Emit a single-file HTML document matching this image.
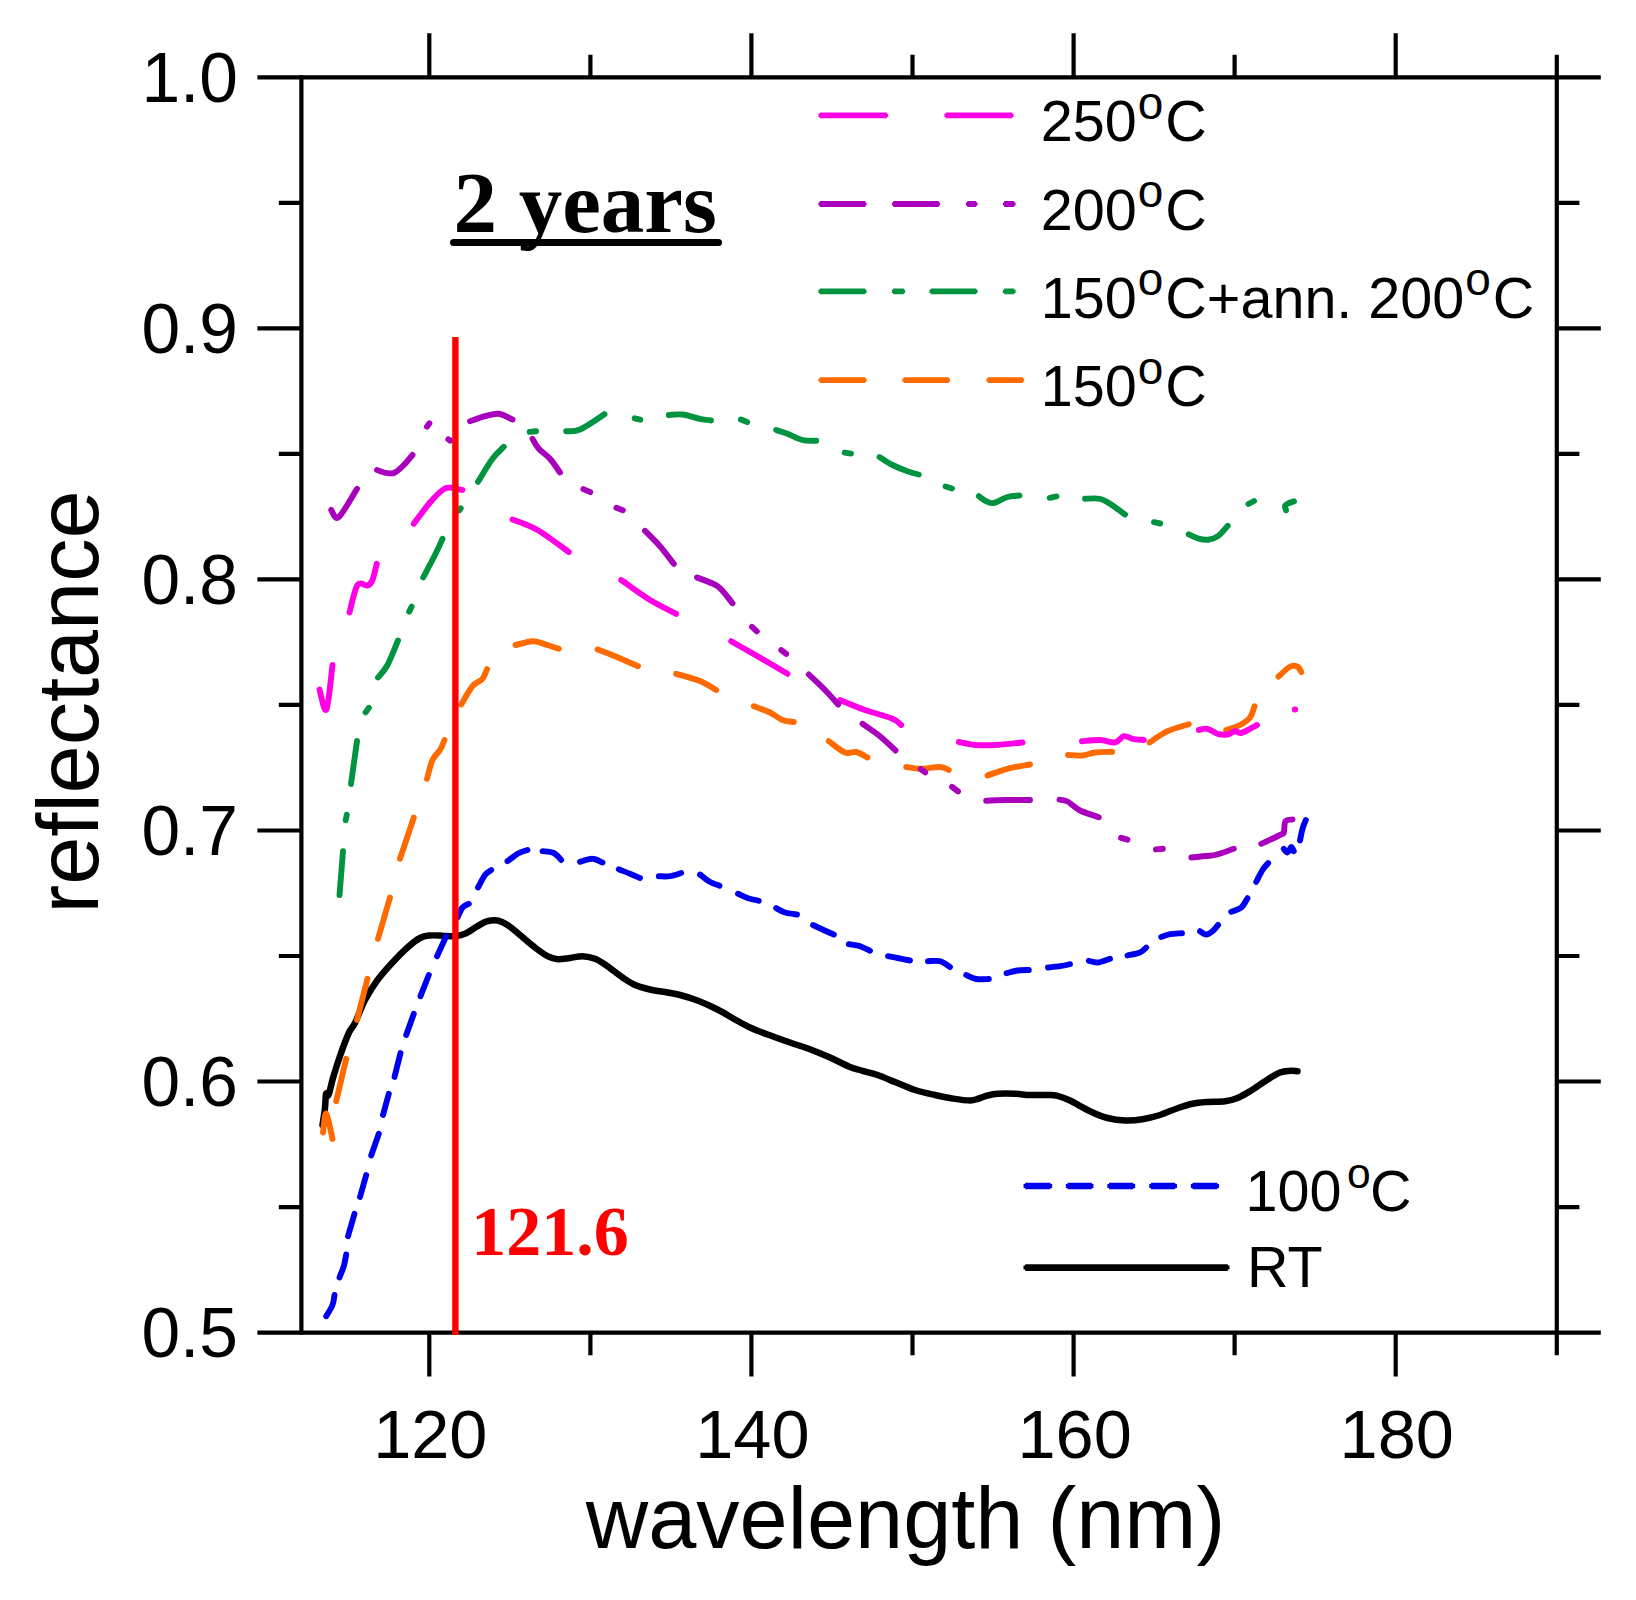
<!DOCTYPE html>
<html lang="en"><head><meta charset="utf-8"><title>reflectance vs wavelength</title>
<style>
html,body{margin:0;padding:0;background:#fff;}
body{width:1636px;height:1600px;overflow:hidden;}
svg{display:block;}
text{font-family:"Liberation Sans",Arial,sans-serif;fill:#000;}
.tk{font-size:69.5px;}
.tkx{font-size:68.5px;}
.lg{font-size:57.5px;}
.sup{font-size:46px;}
.ax{font-size:86.5px;}
.ser{font-family:"Liberation Serif","Times New Roman",serif;font-weight:bold;}
.c{fill:none;stroke-width:5.9;stroke-linecap:round;stroke-linejoin:round;}
.a{fill:none;stroke:#000;stroke-width:4.2;stroke-linecap:butt;}
</style></head><body>
<svg width="1636" height="1600" viewBox="0 0 1636 1600">
<rect width="1636" height="1600" fill="#fff"/>

<g class="a">
<path d="M301.4,75.2 V1334.6999999999998 M1556.8,75.2 V1334.6999999999998"/>
<path d="M257.4,77.3 H1600.8 M257.4,1332.6 H1600.8"/>
<path d="M278.79999999999995,1207.1 H301.4 M1556.8,1207.1 H1579.3999999999999 M257.4,1081.5 H301.4 M1556.8,1081.5 H1600.8 M278.79999999999995,956.0 H301.4 M1556.8,956.0 H1579.3999999999999 M257.4,830.5 H301.4 M1556.8,830.5 H1600.8 M278.79999999999995,704.9 H301.4 M1556.8,704.9 H1579.3999999999999 M257.4,579.4 H301.4 M1556.8,579.4 H1600.8 M278.79999999999995,453.9 H301.4 M1556.8,453.9 H1579.3999999999999 M257.4,328.4 H301.4 M1556.8,328.4 H1600.8 M278.79999999999995,202.8 H301.4 M1556.8,202.8 H1579.3999999999999 "/>
<path d="M429.3,33.3 V77.3 M429.3,1332.6 V1376.6 M590.4,54.699999999999996 V77.3 M590.4,1332.6 V1355.1999999999998 M751.4,33.3 V77.3 M751.4,1332.6 V1376.6 M912.5,54.699999999999996 V77.3 M912.5,1332.6 V1355.1999999999998 M1073.6,33.3 V77.3 M1073.6,1332.6 V1376.6 M1234.6,54.699999999999996 V77.3 M1234.6,1332.6 V1355.1999999999998 M1395.7,33.3 V77.3 M1395.7,1332.6 V1376.6 M1556.8,54.699999999999996 V77.3 M1556.8,1332.6 V1355.1999999999998 "/>
</g>
<text class="tk" x="238" y="1356.8" text-anchor="end">0.5</text>
<text class="tk" x="238" y="1105.7" text-anchor="end">0.6</text>
<text class="tk" x="238" y="854.7" text-anchor="end">0.7</text>
<text class="tk" x="238" y="603.6" text-anchor="end">0.8</text>
<text class="tk" x="238" y="352.6" text-anchor="end">0.9</text>
<text class="tk" x="238" y="101.5" text-anchor="end">1.0</text>
<text class="tkx" x="430.3" y="1458" text-anchor="middle">120</text>
<text class="tkx" x="752.4" y="1458" text-anchor="middle">140</text>
<text class="tkx" x="1074.6" y="1458" text-anchor="middle">160</text>
<text class="tkx" x="1396.7" y="1458" text-anchor="middle">180</text>
<text class="ax" x="905.5" y="1548" text-anchor="middle">wavelength (nm)</text>
<text class="ax" transform="translate(98,702) rotate(-90)" text-anchor="middle">reflectance</text>
<path class="c" stroke="#000" style="stroke-width:6.5" d="M322.5,1125.0 C322.9,1122.2 324.4,1113.2 325.0,1108.0 C325.6,1102.8 325.4,1096.2 326.0,1094.0 C326.6,1091.8 327.3,1097.7 328.5,1095.0 C329.7,1092.3 331.1,1084.5 333.0,1078.0 C334.9,1071.5 337.4,1063.5 340.0,1056.0 C342.6,1048.5 346.2,1038.5 348.8,1033.0 C351.2,1027.5 352.3,1028.5 355.0,1023.0 C357.7,1017.5 361.2,1007.2 365.0,1000.0 C368.8,992.8 372.9,986.2 377.5,980.0 C382.1,973.8 387.5,967.9 392.5,962.5 C397.5,957.1 402.9,951.6 407.5,947.5 C412.1,943.4 416.2,940.0 420.0,938.0 C423.8,936.0 426.2,935.9 430.0,935.5 C433.8,935.1 438.3,935.6 442.5,935.8 C446.7,935.9 451.2,936.6 455.0,936.2 C458.8,935.9 461.2,935.4 465.0,933.8 C468.8,932.1 473.8,928.3 477.5,926.2 C481.2,924.2 484.2,922.2 487.5,921.2 C490.8,920.3 494.2,919.9 497.5,920.5 C500.8,921.1 503.8,922.6 507.5,925.0 C511.2,927.4 515.4,931.2 520.0,935.0 C524.6,938.8 530.4,944.0 535.0,947.5 C539.6,951.0 543.8,954.3 547.5,956.2 C551.2,958.2 553.8,959.0 557.5,959.2 C561.2,959.5 565.8,958.5 570.0,958.0 C574.2,957.5 578.3,956.1 582.5,956.2 C586.7,956.4 590.8,957.1 595.0,958.8 C599.2,960.4 602.9,963.1 607.5,966.2 C612.1,969.4 617.9,974.4 622.5,977.5 C627.1,980.6 630.4,983.0 635.0,985.0 C639.6,987.0 644.6,988.2 650.0,989.5 C655.4,990.8 662.5,991.6 667.5,992.5 C672.5,993.4 675.0,993.7 680.0,995.0 C685.0,996.3 691.2,998.1 697.5,1000.5 C703.8,1002.9 711.2,1006.3 717.5,1009.5 C723.8,1012.7 729.6,1016.5 735.0,1019.5 C740.4,1022.5 744.6,1025.0 750.0,1027.5 C755.4,1030.0 760.8,1032.0 767.5,1034.5 C774.2,1037.0 782.9,1040.0 790.0,1042.5 C797.1,1045.0 803.3,1046.8 810.0,1049.2 C816.7,1051.8 823.3,1054.5 830.0,1057.5 C836.7,1060.5 844.6,1064.8 850.0,1067.0 C855.4,1069.2 857.9,1069.4 862.5,1070.8 C867.1,1072.1 872.1,1073.1 877.5,1075.0 C882.9,1076.9 888.8,1079.5 895.0,1082.0 C901.2,1084.5 908.3,1087.8 915.0,1090.0 C921.7,1092.2 928.7,1093.6 935.0,1095.0 C941.3,1096.4 947.2,1097.7 953.0,1098.6 C958.8,1099.5 965.7,1100.5 970.0,1100.5 C974.3,1100.5 976.1,1099.3 979.0,1098.5 C981.9,1097.7 984.4,1096.3 987.5,1095.5 C990.6,1094.7 992.9,1094.0 997.5,1093.8 C1002.1,1093.5 1009.6,1093.5 1015.0,1093.8 C1020.4,1094.0 1024.6,1094.8 1030.0,1095.0 C1035.4,1095.2 1042.9,1094.9 1047.5,1095.0 C1052.1,1095.1 1053.8,1094.8 1057.5,1095.8 C1061.2,1096.7 1064.6,1097.9 1070.0,1100.5 C1075.4,1103.1 1083.8,1108.3 1090.0,1111.2 C1096.2,1114.2 1101.7,1116.5 1107.5,1118.0 C1113.3,1119.5 1119.2,1120.3 1125.0,1120.5 C1130.8,1120.7 1136.7,1120.2 1142.5,1119.2 C1148.3,1118.3 1154.2,1116.8 1160.0,1115.0 C1165.8,1113.2 1172.1,1110.1 1177.5,1108.2 C1182.9,1106.4 1187.5,1104.8 1192.5,1103.8 C1197.5,1102.7 1202.1,1102.4 1207.5,1102.0 C1212.9,1101.6 1220.0,1101.9 1225.0,1101.2 C1230.0,1100.6 1233.3,1099.7 1237.5,1098.0 C1241.7,1096.3 1245.4,1094.0 1250.0,1091.2 C1254.6,1088.5 1260.0,1084.4 1265.0,1081.2 C1270.0,1078.1 1275.8,1074.2 1280.0,1072.5 C1284.2,1070.8 1287.1,1071.0 1290.0,1070.8 C1292.9,1070.5 1296.2,1071.2 1297.5,1071.2"/>
<path class="c" stroke="#0000f0" d="M326.2,1316.2 C327.3,1314.4 331.1,1308.5 332.5,1305.0 C333.9,1301.5 334.2,1296.7 334.5,1295.0 M339.5,1277.5 C340.2,1275.6 342.6,1270.1 343.8,1266.2 C344.9,1262.4 345.8,1256.5 346.2,1254.5 M348.0,1236.2 L354.5,1213.8 M360.0,1197.0 L366.2,1175.0 M371.2,1155.5 L378.8,1133.8 M383.0,1115.0 L388.8,1093.8 M394.5,1077.0 L400.5,1053.0 M406.2,1035.0 L413.8,1013.8 M420.5,996.2 L428.8,975.0 M437.0,956.2 L446.2,936.2 M457.5,917.5 C458.3,915.8 460.6,909.8 462.5,907.5 C464.4,905.2 467.7,904.4 468.8,903.8 M478.0,887.5 C479.2,885.4 482.8,877.9 485.0,875.0 C487.2,872.1 490.2,870.8 491.2,870.0 M507.5,861.2 C509.2,860.0 514.2,855.6 517.5,853.8 C520.8,851.9 525.8,850.6 527.5,850.0 M542.5,851.2 C544.4,851.5 550.6,851.5 553.8,853.0 C556.9,854.5 560.0,858.8 561.2,860.0 M580.0,861.8 C582.1,861.2 588.8,858.6 592.5,858.8 C596.2,858.9 600.8,861.9 602.5,862.5 M618.8,869.2 C620.6,870.0 626.5,872.3 630.0,873.8 C633.5,875.2 638.3,877.3 640.0,878.0 M658.8,876.2 C660.6,876.2 666.2,876.8 670.0,876.2 C673.8,875.7 679.4,873.5 681.2,873.0 M700.0,874.5 C701.5,875.6 705.5,879.4 708.8,881.2 C712.0,883.1 717.7,885.0 719.5,885.8 M738.0,893.8 C739.6,894.5 744.0,896.8 747.5,898.0 C751.0,899.2 756.9,900.3 758.8,900.8 M776.2,908.2 C777.7,909.0 781.5,911.5 785.0,912.5 C788.5,913.5 795.0,914.2 797.0,914.5 M813.0,925.0 C814.6,925.8 819.0,927.9 822.5,929.5 C826.0,931.1 831.9,933.7 833.8,934.5 M848.8,944.2 C850.6,944.6 856.5,945.2 860.0,946.2 C863.5,947.3 868.3,950.0 870.0,950.8 M888.0,956.2 C889.6,956.5 893.8,957.3 897.5,958.0 C901.2,958.7 907.9,960.1 910.0,960.5 M928.0,961.2 C930.0,961.2 936.3,960.3 940.0,961.2 C943.7,962.2 948.3,966.0 950.0,967.0 M966.2,975.0 C967.9,975.7 972.5,978.3 976.2,979.0 C980.0,979.7 986.7,979.0 988.8,979.0 M1006.5,973.2 C1008.3,972.8 1013.8,971.0 1017.5,970.5 C1021.2,970.0 1026.9,970.1 1028.8,970.0 M1048.0,967.5 C1050.0,967.3 1056.3,966.8 1060.0,966.2 C1063.7,965.7 1068.3,964.6 1070.0,964.2 M1088.8,960.8 C1090.2,961.0 1094.0,962.8 1097.5,962.5 C1101.0,962.2 1107.9,959.4 1110.0,958.8 M1127.5,955.5 C1129.6,955.0 1136.9,953.8 1140.0,952.5 C1143.1,951.2 1145.2,948.3 1146.2,947.5 M1161.2,937.0 C1162.7,936.5 1166.5,934.9 1170.0,934.2 C1173.5,933.6 1180.0,933.4 1182.0,933.2 M1200.0,931.2 C1201.0,931.8 1204.2,934.5 1206.2,934.5 C1208.3,934.5 1210.5,932.8 1212.5,931.2 C1214.5,929.7 1217.1,926.0 1218.0,925.0 M1231.2,911.8 C1232.9,911.0 1238.5,909.8 1241.2,907.5 C1244.0,905.2 1246.5,899.8 1247.5,898.2 M1256.2,881.8 C1257.3,879.8 1260.5,873.1 1262.5,870.0 C1264.5,866.9 1267.3,864.2 1268.2,863.0 M1283.8,848.8 C1284.4,849.4 1286.2,852.8 1287.5,852.5 C1288.8,852.2 1290.2,847.2 1291.2,847.0 C1292.3,846.8 1293.3,850.5 1293.8,851.2 M1300.0,840.5 C1300.4,838.5 1301.5,832.2 1302.5,828.8 C1303.5,825.3 1305.2,821.5 1305.8,820.0"/>
<path class="c" stroke="#ff6a00" d="M323.0,1132.5 C323.5,1129.3 324.7,1112.4 326.2,1113.5 C327.8,1114.6 331.5,1134.8 332.5,1139.0 M336.2,1101.2 C336.9,1098.5 338.3,1092.1 340.0,1085.0 C341.7,1077.9 345.2,1063.1 346.2,1058.8 M357.0,1020.0 L367.5,978.8 M378.0,938.8 L390.0,897.5 M400.0,858.8 L413.8,817.5 M427.0,778.8 C427.9,775.6 430.3,764.8 432.5,760.0 C434.7,755.2 438.0,753.3 440.0,750.0 C442.0,746.7 443.8,741.7 444.5,740.0 M461.2,704.5 C463.1,701.5 469.0,690.5 472.5,686.2 C476.0,682.0 480.1,681.6 482.5,678.8 C484.9,675.9 486.2,670.8 487.0,669.2 M515.5,645.0 C518.3,644.4 527.8,641.5 532.5,641.2 C537.2,641.0 539.4,642.5 543.8,643.8 C548.1,645.0 556.2,647.9 558.8,648.8 M597.5,649.5 C600.4,650.6 608.2,653.5 615.0,656.2 C621.8,659.0 634.2,664.6 638.0,666.2 M676.2,673.8 C680.2,675.0 693.3,678.3 700.0,681.0 C706.7,683.7 713.5,688.5 716.2,690.0 M753.8,706.2 C756.5,707.3 765.2,710.2 770.0,712.5 C774.8,714.8 778.5,718.4 782.5,720.0 C786.5,721.6 791.9,721.7 793.8,722.0 M828.8,741.2 C831.5,743.1 840.4,750.7 845.0,752.5 C849.6,754.3 852.5,751.2 856.2,752.0 C860.0,752.8 865.6,756.6 867.5,757.5 M906.2,767.0 C908.5,767.3 914.4,768.8 920.0,768.8 C925.6,768.8 935.2,766.8 940.0,767.0 C944.8,767.2 947.3,769.5 948.8,770.0 M987.5,775.5 C990.8,774.4 1000.4,770.6 1007.5,768.8 C1014.6,766.9 1026.2,765.2 1030.0,764.5 M1068.0,755.0 C1070.4,755.1 1078.0,755.9 1082.5,755.5 C1087.0,755.1 1090.1,753.1 1095.0,752.5 C1099.9,751.9 1109.2,751.9 1112.0,751.8 M1149.5,742.5 C1152.5,740.6 1161.0,734.3 1167.5,731.2 C1174.0,728.2 1185.2,725.4 1188.8,724.2 M1226.2,730.0 C1228.5,729.2 1236.0,727.1 1240.0,725.0 C1244.0,722.9 1247.6,720.6 1250.0,717.5 C1252.4,714.4 1253.8,708.1 1254.5,706.2 M1278.5,676.5 C1280.1,675.1 1285.6,669.8 1288.0,668.0 C1290.4,666.2 1291.3,666.0 1293.0,665.8 C1294.7,665.6 1296.6,666.0 1298.0,667.0 C1299.4,668.0 1300.8,671.2 1301.3,672.0"/>
<path class="c" stroke="#009440" d="M339.5,895.0 L343.0,851.2 M345.7,820.3 L346.8,814.7 M351.0,784.0 L357.0,741.0 M365.6,712.4 L368.9,707.8 M378.0,677.5 C379.6,675.4 384.2,671.2 387.5,665.0 C390.8,658.8 396.2,644.6 398.0,640.5 M409.2,611.6 L411.6,606.7 M423.2,577.5 C425.4,573.3 433.0,559.0 436.2,552.5 C439.5,546.0 441.5,541.0 442.5,538.8 M459.3,510.4 L460.7,508.3 M478.0,481.8 C480.4,477.9 488.2,464.6 492.5,458.8 C496.8,452.9 501.9,448.8 503.8,446.8 M529.7,431.9 L536.0,431.3 M566.2,431.2 C568.5,431.0 573.6,432.3 580.0,429.5 C586.4,426.7 600.4,416.8 604.5,414.2 M634.7,418.3 L640.3,419.7 M668.8,415.0 C671.0,414.9 677.3,413.9 682.5,414.5 C687.7,415.1 695.2,417.8 700.0,418.8 C704.8,419.8 709.2,420.2 711.0,420.5 M740.9,419.6 L747.1,422.1 M776.2,430.0 C778.1,430.6 783.1,432.1 787.5,433.8 C791.9,435.4 797.7,438.8 802.5,440.0 C807.3,441.2 814.0,440.6 816.2,440.8 M844.7,452.6 L851.0,453.6 M879.5,457.0 C881.7,458.3 887.8,462.6 892.5,465.0 C897.2,467.4 903.1,469.7 907.5,471.2 C911.9,472.8 916.9,474.0 918.8,474.5 M945.5,486.5 L952.0,488.5 M978.8,496.2 C980.0,497.1 983.8,500.1 986.2,501.2 C988.8,502.4 990.2,503.7 993.8,503.0 C997.3,502.3 1003.2,498.2 1007.5,497.0 C1011.8,495.8 1017.5,495.8 1019.5,495.5 M1049.7,497.8 L1056.5,496.4 M1085.0,498.8 C1087.5,498.8 1095.8,497.9 1100.0,498.8 C1104.2,499.6 1105.8,501.1 1110.0,503.8 C1114.2,506.4 1122.5,512.7 1125.0,514.5 M1154.0,522.2 L1160.3,523.5 M1188.7,534.4 C1190.3,535.1 1195.2,537.7 1198.5,538.6 C1201.8,539.5 1205.0,540.1 1208.2,539.7 C1211.5,539.3 1214.7,538.5 1218.0,536.2 C1221.3,533.9 1226.2,527.5 1227.8,525.8 M1248.4,504.0 L1254.1,501.0 M1286.0,510.3 C1285.8,509.6 1284.7,507.1 1285.0,506.0 C1285.3,504.9 1286.5,504.3 1288.0,503.5 C1289.5,502.7 1293.0,501.7 1294.0,501.3"/>
<path class="c" stroke="#ff00e6" d="M319.5,689.5 C320.6,692.8 324.2,713.6 326.4,709.5 C328.6,705.4 331.5,672.4 332.5,665.0 M349.5,612.5 C350.8,607.9 354.5,589.5 357.5,585.0 C360.5,580.5 365.0,586.3 367.5,585.5 C370.0,584.7 371.0,583.6 372.5,580.0 C374.0,576.4 376.0,566.5 376.8,563.8 M413.8,523.8 C416.5,520.2 425.2,508.1 430.0,502.5 C434.8,496.9 439.2,492.5 442.5,490.0 C445.8,487.5 446.7,487.5 450.0,487.5 C453.3,487.5 460.4,489.6 462.5,490.0 M512.5,519.5 C516.7,521.2 528.1,524.6 537.5,530.0 C546.9,535.4 563.5,548.3 568.8,552.0 M621.2,580.0 C626.0,583.3 640.8,594.4 650.0,600.0 C659.2,605.6 671.9,611.5 676.2,613.8 M731.2,641.2 C735.6,643.8 748.1,650.8 757.5,656.2 C766.9,661.7 782.5,670.8 787.5,673.8 M840.0,700.0 C844.2,701.7 856.2,706.9 865.0,710.0 C873.8,713.1 886.5,716.2 892.5,718.8 C898.5,721.2 899.8,724.0 901.2,725.0 M958.8,742.0 C961.5,742.5 969.0,744.5 975.0,745.0 C981.0,745.5 987.1,745.4 995.0,745.0 C1002.9,744.6 1017.9,742.9 1022.5,742.5 M1082.0,741.2 C1085.0,741.0 1094.5,739.8 1100.0,740.0 C1105.5,740.2 1111.0,743.1 1115.0,742.5 C1119.0,741.9 1120.8,736.9 1123.8,736.2 C1126.7,735.6 1129.2,738.1 1132.5,738.8 C1135.8,739.4 1141.9,739.8 1143.8,740.0 M1198.8,730.0 C1200.2,729.8 1204.4,728.1 1207.5,728.8 C1210.6,729.4 1214.2,732.8 1217.5,733.8 C1220.8,734.7 1224.6,734.9 1227.5,734.5 C1230.4,734.1 1232.7,731.5 1235.0,731.2 C1237.3,731.0 1238.8,733.4 1241.2,733.0 C1243.8,732.6 1247.4,730.1 1250.0,728.8 C1252.6,727.4 1255.8,725.6 1257.0,725.0 M1294.8,709.5 L1295.2,709.5"/>
<path class="c" stroke="#a800bc" d="M331.2,510.0 C332.5,511.2 334.5,520.5 338.8,517.0 C343.0,513.5 354.0,493.5 357.0,488.8 M377.0,470.0 C378.5,470.5 383.2,472.6 386.2,473.0 C389.2,473.4 391.9,474.0 395.0,472.5 C398.1,471.0 402.1,466.7 405.0,463.8 C407.9,460.8 411.2,456.5 412.5,455.0 M426.9,426.7 L429.4,423.3 M448.3,439.3 L450.4,440.7 M470.0,421.2 C472.5,420.4 480.2,417.5 485.0,416.2 C489.8,415.0 494.2,413.2 498.8,413.8 C503.3,414.3 510.2,418.5 512.5,419.5 M532.5,438.8 C533.5,440.4 535.8,445.4 538.8,448.8 C541.7,452.1 546.5,454.8 550.0,458.8 C553.5,462.7 558.3,470.2 560.0,472.5 M583.4,489.1 L590.3,492.1 M616.4,507.8 L622.8,510.2 M645.0,530.8 C647.5,533.3 655.2,540.8 660.0,546.2 C664.8,551.8 671.5,560.8 673.8,563.8 M697.0,577.5 C700.4,579.0 711.6,582.0 717.5,586.2 C723.4,590.5 730.0,600.4 732.5,603.2 M752.0,626.9 L756.8,631.3 M781.3,650.1 L786.2,653.9 M808.8,674.5 C811.5,677.1 820.1,685.0 825.0,690.0 C829.9,695.0 836.0,702.1 838.2,704.5 M862.5,723.8 C865.4,725.8 874.5,731.8 880.0,736.2 C885.5,740.7 892.9,748.1 895.5,750.5 M920.8,769.1 L925.2,772.4 M952.0,786.9 L958.0,791.4 M986.2,800.8 C989.4,800.6 997.7,800.1 1005.0,800.0 C1012.3,799.9 1025.8,800.0 1030.0,800.0 M1059.5,799.7 C1060.8,800.0 1064.1,799.7 1067.5,801.5 C1070.9,803.3 1074.8,807.9 1080.0,810.5 C1085.2,813.1 1095.6,816.1 1098.8,817.2 M1121.0,837.8 L1127.5,839.7 M1156.0,849.4 L1162.8,848.8 M1191.2,857.5 C1193.1,857.3 1198.5,856.7 1202.5,856.2 C1206.5,855.8 1209.8,856.2 1215.0,855.0 C1220.2,853.8 1230.6,849.8 1233.8,848.8 M1261.2,843.8 C1264.4,842.3 1276.2,836.9 1280.0,835.0 C1283.8,833.1 1282.8,834.8 1283.8,832.5 C1284.7,830.2 1284.0,823.4 1285.5,821.2 C1287.0,819.1 1291.3,819.8 1292.5,819.5"/>
<path d="M455.4,337 V1335" stroke="#ff0000" stroke-width="6.4" fill="none"/>
<text class="ser" x="471.3" y="1255" style="font-size:70px;fill:#ff0000">121.6</text>
<text class="ser" x="453.5" y="232.3" style="font-size:87px">2 years</text>
<path d="M453.5,242.6 H718.5" stroke="#000" stroke-width="7" stroke-linecap="round" fill="none"/>
<path d="M819.7,115.4 H886.8 M945.7,115.4 H1012.3" stroke="#ff00e6" stroke-width="5.8" stroke-linecap="round" stroke-linejoin="round" fill="none" style="stroke-linecap:butt"/>
<path d="M820.0,115.4 H886.5 M946.0,115.4 H1012.0" stroke="#ff00e6" stroke-width="3.2" stroke-linecap="square" fill="none"/>
<path d="M819.7,204.0 H865.3 M893.2,204.0 H938.8 M967.2,204.0 H976.3 M1004.2,204.0 H1014.3" stroke="#a800bc" stroke-width="5.8" stroke-linecap="round" stroke-linejoin="round" fill="none" style="stroke-linecap:butt"/>
<path d="M820.0,204.0 H865.0 M893.5,204.0 H938.5 M967.5,204.0 H976.0 M1004.5,204.0 H1014.0" stroke="#a800bc" stroke-width="3.2" stroke-linecap="square" fill="none"/>
<path d="M819.7,291.3 H865.3 M893.2,291.3 H903.8 M930.7,291.3 H976.3 M1004.2,291.3 H1014.3" stroke="#009440" stroke-width="5.8" stroke-linecap="round" stroke-linejoin="round" fill="none" style="stroke-linecap:butt"/>
<path d="M820.0,291.3 H865.0 M893.5,291.3 H903.5 M931.0,291.3 H976.0 M1004.5,291.3 H1014.0" stroke="#009440" stroke-width="3.2" stroke-linecap="square" fill="none"/>
<path d="M819.7,380.2 H865.3 M903.7,380.2 H948.8 M987.7,380.2 H1022.8" stroke="#ff6a00" stroke-width="5.8" stroke-linecap="round" stroke-linejoin="round" fill="none" style="stroke-linecap:butt"/>
<path d="M820.0,380.2 H865.0 M904.0,380.2 H948.5 M988.0,380.2 H1022.5" stroke="#ff6a00" stroke-width="3.2" stroke-linecap="square" fill="none"/>
<path d="M1025.2,1186.0 H1050.5 M1067.5,1186.0 H1091.8 M1109.0,1186.0 H1133.5 M1150.9,1186.0 H1175.3 M1192.5,1186.0 H1217.4" stroke="#0000f0" stroke-width="6.5" stroke-linecap="round" stroke-linejoin="round" fill="none" style="stroke-linecap:butt"/>
<path d="M1025.5,1186.0 H1050.2 M1067.8,1186.0 H1091.5 M1109.3,1186.0 H1133.2 M1151.2,1186.0 H1175.0 M1192.8,1186.0 H1217.1" stroke="#0000f0" stroke-width="3.9" stroke-linecap="square" fill="none"/>
<path d="M1025.2,1267.6 H1227.8" stroke="#000" stroke-width="6.6" stroke-linecap="round" stroke-linejoin="round" fill="none" style="stroke-linecap:butt"/>
<path d="M1025.5,1267.6 H1227.5" stroke="#000" stroke-width="4.0" stroke-linecap="square" fill="none"/>
<text class="lg" x="1040.8" y="141.3">250<tspan style="font-size:46px" dx="1" dy="-22.5">o</tspan><tspan dx="2" dy="22.5">C</tspan></text>
<text class="lg" x="1040.8" y="229.5">200<tspan style="font-size:46px" dx="1" dy="-22.5">o</tspan><tspan dx="2" dy="22.5">C</tspan></text>
<text class="lg" x="1040.8" y="317.8">150<tspan style="font-size:46px" dx="1" dy="-22.5">o</tspan><tspan dx="2" dy="22.5">C+ann. 200<tspan class="sup" dx="1" dy="-22.5">o</tspan><tspan dx="2" dy="22.5">C</tspan></tspan></text>
<text class="lg" x="1040.8" y="406">150<tspan style="font-size:46px" dx="1" dy="-22.5">o</tspan><tspan dx="2" dy="22.5">C</tspan></text>
<text class="lg" x="1245.5" y="1210.7">100<tspan style="font-size:42.5px" dx="5.5" dy="-22.5">o</tspan><tspan dx="-0.5" dy="22.5">C</tspan></text>
<text class="lg" x="1247" y="1286.8">RT</text>
</svg></body></html>
